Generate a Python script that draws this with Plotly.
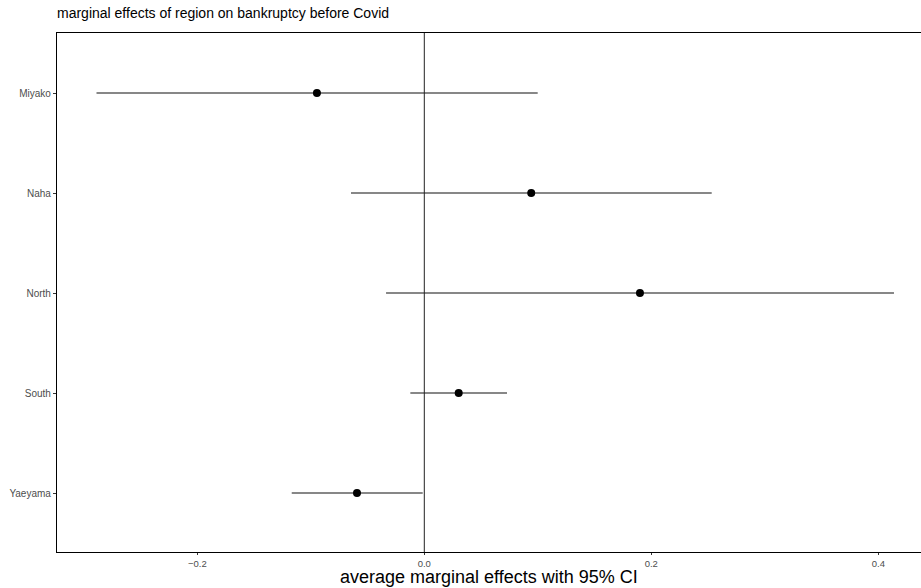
import plotly.graph_objects as go

regions = ["Yaeyama", "South", "North", "Naha", "Miyako"]
estimate = [-0.0593, 0.0303, 0.190, 0.0942, -0.0946]
ci_low = [-0.1168, -0.0123, -0.0337, -0.0646, -0.2888]
ci_high = [-0.0014, 0.0729, 0.4138, 0.2532, 0.0999]

x_ticks = [-0.2, 0.0, 0.2, 0.4]
x_tick_labels = ["\u22120.2", "0.0", "0.2", "0.4"]
x_title = "average marginal effects with 95% CI"

err_plus = [h - e for h, e in zip(ci_high, estimate)]
err_minus = [e - l for e, l in zip(estimate, ci_low)]

fig = go.Figure()
fig.add_vline(x=0, line=dict(color="#222222", width=1))
fig.add_trace(go.Scatter(
    x=estimate, y=regions, mode="markers",
    marker=dict(color="black", size=8),
    error_x=dict(type="data", symmetric=False, array=err_plus, arrayminus=err_minus,
                 width=0, thickness=1.1, color="#111111"),
    showlegend=False,
))

fig.add_annotation(text=x_title, xref="paper", yref="paper", x=0.5, y=-(577 - 552) / 519,
                   xanchor="center", yanchor="middle", showarrow=False,
                   font=dict(size=18, color="black"))

fig.update_layout(
    width=921, height=588,
    margin=dict(l=57, r=0, t=33, b=36),
    plot_bgcolor="white", paper_bgcolor="white",
    font=dict(family="Liberation Sans, Arial, sans-serif"),
    title=dict(text="marginal effects of region on bankruptcy before Covid",
               x=57/921, xanchor="left", y=1 - 13/588, yanchor="middle",
               font=dict(size=14, color="black")),
    xaxis=dict(range=[-0.3236, 0.4376], tickvals=x_ticks, ticktext=x_tick_labels,
               showgrid=False, zeroline=False, showline=True, linecolor="black",
               linewidth=1.2, mirror=True, ticks="outside", ticklen=2,
               tickcolor="#333333", tickfont=dict(size=9.5, color="#4D4D4D"),
               automargin=False),
    yaxis=dict(type="category", categoryorder="array", categoryarray=regions,
               range=[-0.59, 4.6], showgrid=False, zeroline=False, showline=True,
               linecolor="black", linewidth=1.2, ticks="outside", ticklen=3,
               tickcolor="#333333", tickfont=dict(size=10, color="#4D4D4D"),
               automargin=False),
)

fig.write_html("out.html", config={"displayModeBar": False},
               post_script="document.body.style.margin='0';document.body.style.overflow='hidden';")
